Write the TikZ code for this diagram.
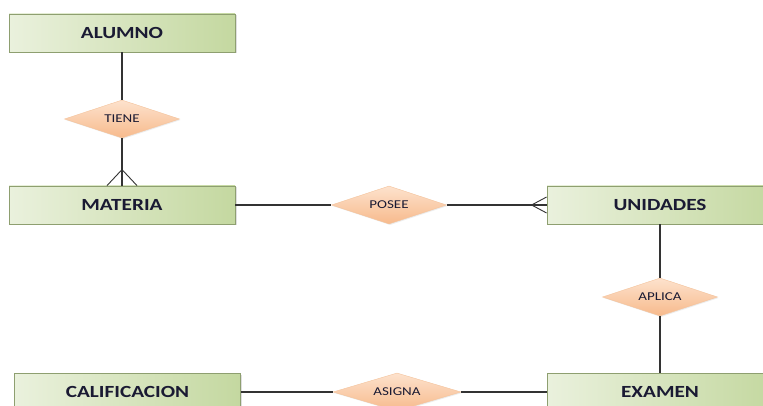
\documentclass[tikz,border=0pt]{standalone}
\usepackage{fontspec}
\usetikzlibrary{shapes.geometric,shadows,calc}
\newfontfamily\erfont[FakeStretch=1.25]{Carlito}
\definecolor{entlight}{HTML}{EAF1DD}
\definecolor{entdark}{HTML}{C4D8A0}
\definecolor{entedge}{HTML}{8E9F70}
\definecolor{rellight}{HTML}{FDE2CD}
\definecolor{reldark}{HTML}{F7BA8C}
\definecolor{reledge}{HTML}{F4C39C}
\definecolor{labelink}{HTML}{1A1A33}
\definecolor{wire}{HTML}{333333}
\tikzset{
  entity/.style={rectangle, minimum width=226pt, minimum height=38pt,
    left color=entlight, right color=entdark, draw=entedge, line width=0.8pt,
    drop shadow={shadow xshift=1.5pt, shadow yshift=-1.5pt, opacity=0.25},
    font=\erfont\bfseries\fontsize{17}{19}\selectfont, text=labelink, inner sep=0pt},
  relation/.style={diamond, aspect=3, minimum width=115pt, minimum height=38pt, inner sep=0pt,
    top color=rellight, bottom color=reldark, draw=reledge, line width=0.4pt,
    drop shadow={shadow xshift=1pt, shadow yshift=-1pt, opacity=0.15},
    font=\erfont\fontsize{12}{14}\selectfont, text=labelink},
  link/.style={draw=wire, line width=1.2pt}
}
\begin{document}
\begin{tikzpicture}[x=1pt, y=-1pt]
  \useasboundingbox (0,0) rectangle (763,406);
  \fill[white] (0,0) rectangle (763,406);
  \clip (0,0) rectangle (763,406);

  % entities
  \node[entity] (alumno)       at (122,33)   {ALUMNO};
  \node[entity] (materia)      at (122,205)  {MATERIA};
  \node[entity] (unidades)     at (660,205)  {UNIDADES};
  \node[entity] (examen)       at (660,392)  {EXAMEN};
  \node[entity] (calificacion) at (127.5,392){CALIFICACION};

  % relationships
  \node[relation] (tiene)  at (122,119) {TIENE};
  \node[relation] (posee)  at (389,205) {POSEE};
  \node[relation] (aplica) at (660,297) {APLICA};
  \node[relation, minimum width=128pt] (asigna) at (397,392) {ASIGNA};

  % connectors
  \draw[link] (alumno.south) -- (tiene.north);
  \draw[link] (tiene.south) -- (materia.north);
  \draw[link] (materia.east) -- (posee.west);
  \draw[link] (posee.east) -- (unidades.west);
  \draw[link] (unidades.south) -- (aplica.north);
  \draw[link] (aplica.south) -- (examen.north);
  \draw[link] (calificacion.east) -- (asigna.west);
  \draw[link] (asigna.east) -- (examen.west);

  % crow's feet (many side)
  \coordinate (cfm) at ($(materia.north)+(0,-16)$);
  \draw[link, line width=0.9pt] ($(materia.north)+(-15,0)$) -- (cfm) -- ($(materia.north)+(15,0)$);
  \coordinate (cfu) at ($(unidades.west)+(-15,0)$);
  \draw[link, line width=0.9pt] ($(unidades.west)+(0,-8)$) -- (cfu) -- ($(unidades.west)+(0,8)$);
\end{tikzpicture}
\end{document}
